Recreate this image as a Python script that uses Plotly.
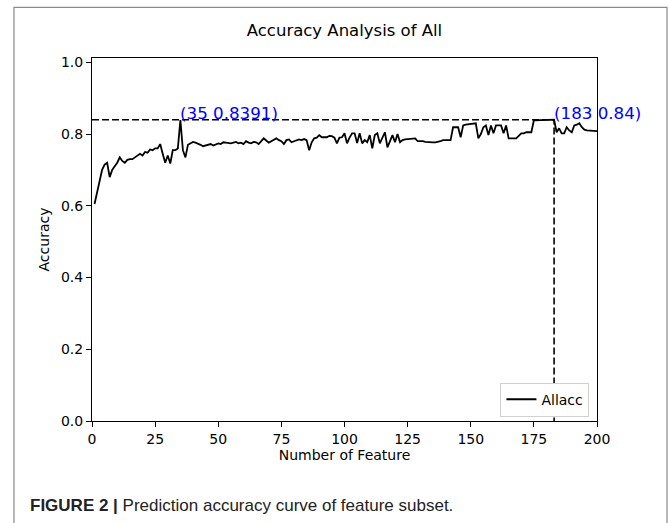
import plotly.graph_objects as go

# ---- data ----
n_features = list(range(1, 201))
accuracy = [
    0.605, 0.640, 0.670, 0.700, 0.715, 0.720, 0.680, 0.700, 0.710, 0.720,
    0.735, 0.725, 0.720, 0.728, 0.730, 0.730, 0.735, 0.740, 0.745, 0.740,
    0.750, 0.748, 0.757, 0.755, 0.760, 0.760, 0.772, 0.745, 0.720, 0.740,
    0.718, 0.755, 0.755, 0.760, 0.8391, 0.755, 0.735, 0.770, 0.775, 0.778,
    0.776, 0.774, 0.770, 0.766, 0.768, 0.770, 0.772, 0.768, 0.772, 0.774,
    0.772, 0.777, 0.776, 0.774, 0.774, 0.776, 0.778, 0.774, 0.776, 0.772,
    0.780, 0.776, 0.774, 0.778, 0.777, 0.772, 0.780, 0.788, 0.782, 0.776,
    0.780, 0.784, 0.788, 0.783, 0.780, 0.772, 0.783, 0.785, 0.777, 0.780,
    0.783, 0.785, 0.783, 0.786, 0.783, 0.755, 0.777, 0.788, 0.790, 0.797,
    0.791, 0.790, 0.791, 0.795, 0.794, 0.790, 0.774, 0.790, 0.791, 0.802,
    0.774, 0.790, 0.802, 0.802, 0.775, 0.802, 0.774, 0.783, 0.777, 0.797,
    0.760, 0.797, 0.802, 0.774, 0.788, 0.805, 0.763, 0.780, 0.797, 0.777,
    0.800, 0.777, 0.783, 0.785, 0.786, 0.787, 0.788, 0.788, 0.780, 0.781,
    0.780, 0.778, 0.777, 0.777, 0.777, 0.777, 0.778, 0.780, 0.783, 0.783,
    0.783, 0.783, 0.819, 0.820, 0.819, 0.791, 0.824, 0.826, 0.827, 0.827,
    0.828, 0.830, 0.788, 0.800, 0.819, 0.824, 0.797, 0.824, 0.802, 0.824,
    0.824, 0.824, 0.802, 0.824, 0.788, 0.788, 0.788, 0.788, 0.795, 0.802,
    0.802, 0.805, 0.805, 0.805, 0.838, 0.838, 0.838, 0.838, 0.838, 0.838,
    0.838, 0.838, 0.840, 0.805, 0.816, 0.802, 0.802, 0.819, 0.810, 0.805,
    0.824, 0.826, 0.830, 0.819, 0.812, 0.810, 0.810, 0.809, 0.808, 0.808,
]
marked_x = [35, 183]
marked_y = [0.8391, 0.84]
marked_labels = ["(35 0.8391)", "(183 0.84)"]
x_ticks = [0, 25, 50, 75, 100, 125, 150, 175, 200]
y_ticks = [0.0, 0.2, 0.4, 0.6, 0.8, 1.0]

FONT = "DejaVu Sans"

fig = go.Figure()

# dashed guide lines to the best point
best_x, best_y = marked_x[1], marked_y[1]
fig.add_trace(go.Scatter(
    x=[0, best_x, best_x], y=[best_y, best_y, 0], mode="lines",
    line=dict(color="black", width=1.6, dash="7px,3px"),
    showlegend=False, hoverinfo="skip",
))

fig.add_trace(go.Scatter(
    x=n_features, y=accuracy, mode="lines", name="Allacc",
    line=dict(color="black", width=1.8),
))

for xv, yv, lab in zip(marked_x, marked_y, marked_labels):
    fig.add_annotation(
        x=xv, y=yv, text=lab, showarrow=False, xanchor="left", yanchor="bottom",
        yshift=-5, xshift=-2, font=dict(family=FONT, size=16.7, color="#0000ff"),
    )

# outer frame of the figure
fig.add_shape(type="rect", xref="paper", yref="paper",
              x0=-0.1545, x1=1.1386, y0=-0.35, y1=1.1396,
              line=dict(color="#8a8a8a", width=1.2), fillcolor="rgba(0,0,0,0)", layer="below")

# caption
fig.add_annotation(
    xref="paper", yref="paper", x=-0.127, y=-0.232, xanchor="left", yanchor="middle",
    text="<b>FIGURE 2 |</b> Prediction accuracy curve of feature subset.",
    showarrow=False, font=dict(family="Liberation Sans, Arial", size=17, color="#222222"),
)

fig.update_layout(
    width=669, height=523,
    margin=dict(l=92, r=72, t=57.7, b=102, pad=0, autoexpand=False),
    paper_bgcolor="white", plot_bgcolor="white",
    title=dict(text="Accuracy Analysis of All", x=0.5, xref="paper", xanchor="center",
               y=0.943, yanchor="middle", font=dict(family=FONT, size=16.5, color="black")),
    font=dict(family=FONT, size=14, color="black"),
    legend=dict(x=0.985, y=0.012, xanchor="right", yanchor="bottom",
                bgcolor="white", bordercolor="#d0d0d0", borderwidth=1,
                font=dict(family=FONT, size=14, color="black")),
    showlegend=True,
)
fig.update_xaxes(
    range=[0, 200], tickvals=x_ticks, ticks="outside", ticklen=5, tickwidth=1, tickcolor="black",
    showline=True, linecolor="black", linewidth=1, mirror=True, showgrid=False, zeroline=False,
    automargin=False,
    title=dict(text="Number of Feature", standoff=4, font=dict(family=FONT, size=14)),
    tickfont=dict(family=FONT, size=14),
)
fig.update_yaxes(
    range=[0, 1.012], tickvals=y_ticks, tickformat=".1f", ticks="outside", ticklen=5, tickwidth=1,
    tickcolor="black", showline=True, linecolor="black", linewidth=1, mirror=True,
    showgrid=False, zeroline=False, automargin=False,
    title=dict(text="Accuracy", standoff=8, font=dict(family=FONT, size=14)),
    tickfont=dict(family=FONT, size=14),
)

fig.write_html("out.html", config={"displayModeBar": False},
               post_script="document.body.style.margin='0';")
